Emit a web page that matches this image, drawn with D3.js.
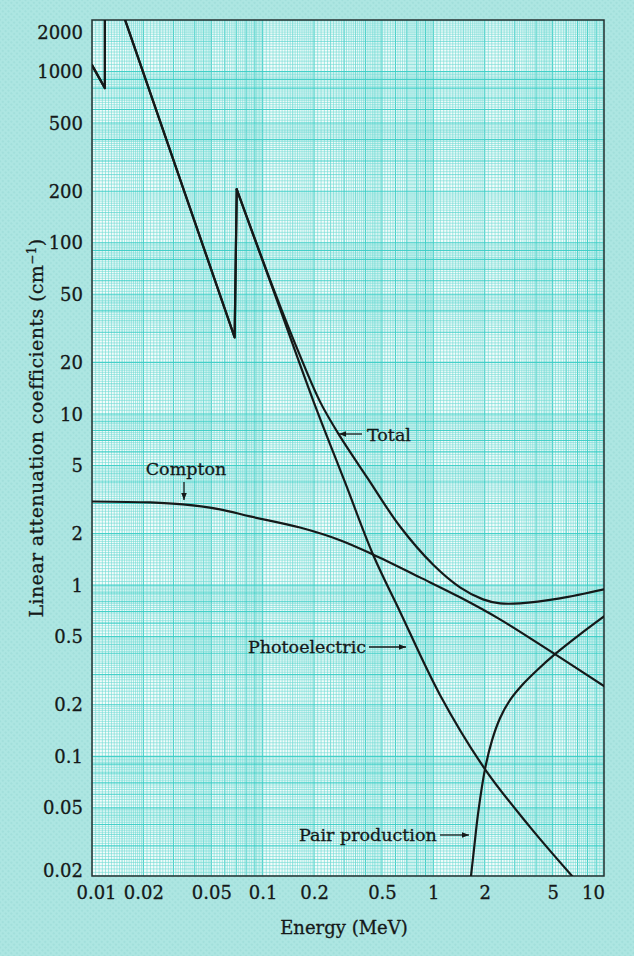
<!DOCTYPE html>
<html>
<head>
<meta charset="utf-8">
<script src="https://cdn.jsdelivr.net/npm/d3@7"></script>
<style>
  html, body { margin: 0; padding: 0; background: #ade6e2; }
  svg { display: block; }
</style>
</head>
<body>
<svg id="chart" width="634" height="956"></svg>
<script>
// ---- axis ticks ----
const energyTicks = [0.01, 0.02, 0.05, 0.1, 0.2, 0.5, 1, 2, 5, 10];
const energyTickLabels = ["0.01", "0.02", "0.05", "0.1", "0.2", "0.5", "1", "2", "5", "10"];
const muTicks = [2000, 1000, 500, 200, 100, 50, 20, 10, 5, 2, 1, 0.5, 0.2, 0.1, 0.05, 0.02];
const muTickLabels = ["2000", "1000", "500", "200", "100", "50", "20", "10", "5", "2", "1", "0.5", "0.2", "0.1", "0.05", "0.02"];

// ---- photoelectric: absorption-edge sawtooth, then smooth fall-off (MeV, cm^-1) ----
const photoEnergy = [0.01, 0.0119, 0.0119, 0.0685, 0.0705, 0.118, 0.197, 0.304, 0.443, 0.638, 1.09, 2.01, 3.69, 6.5];
const photoMu     = [1090, 800, 4400, 28, 205, 49.7, 12.1, 3.98, 1.51, 0.70, 0.23, 0.084, 0.0386, 0.02];
const photoEdgeEnd = 4;

// ---- total attenuation ----
const totalEnergy = [0.01, 0.0119, 0.0119, 0.0685, 0.0705, 0.118, 0.1655, 0.2167, 0.284, 0.409, 0.638, 0.995, 1.433, 1.954, 2.458, 3.22, 5.52, 10];
const totalMu     = [1090, 800, 4400, 28, 205, 51.1, 21.9, 11.8, 7.39, 4.26, 2.20, 1.32, 0.971, 0.826, 0.783, 0.783, 0.837, 0.945];
const totalEdgeEnd = 4;

// ---- Compton scattering ----
const comptonEnergy = [0.01, 0.0219, 0.0341, 0.0562, 0.0843, 0.1655, 0.284, 0.443, 0.835, 1.433, 2.458, 5.16, 10];
const comptonMu     = [3.08, 3.04, 2.96, 2.77, 2.52, 2.17, 1.83, 1.51, 1.11, 0.849, 0.631, 0.395, 0.257];

// ---- pair production ----
const pairEnergy = [1.662, 1.731, 1.827, 2.008, 2.207, 2.458, 2.813, 3.307, 4.05, 5.16, 7.23, 10];
const pairMu     = [0.02, 0.0287, 0.046, 0.0842, 0.124, 0.167, 0.213, 0.26, 0.318, 0.395, 0.516, 0.657];

// ---- layout ----
const W = 634, H = 956;
const plot = { left: 92, right: 604, top: 20, bottom: 876 };
const FONT = "'DejaVu Serif', serif";
const INK = "#151919";

const svg = d3.select("#chart");

const x = d3.scaleLog().domain([0.01, 10]).range([plot.left, plot.right]);
const y = d3.scaleLog().domain([0.02, 2000]).range([plot.bottom, plot.top]);

// page tint with a faint halftone screen
const defs = svg.append("defs");
const pat = defs.append("pattern")
  .attr("id", "screen").attr("width", 4).attr("height", 4)
  .attr("patternUnits", "userSpaceOnUse")
  .attr("patternTransform", "rotate(45)");
pat.append("rect").attr("width", 4).attr("height", 4).attr("fill", "#ade6e2");
pat.append("circle").attr("cx", 2).attr("cy", 2).attr("r", 1.1).attr("fill", "#a0deda");

svg.append("rect").attr("width", W).attr("height", H).attr("fill", "url(#screen)");

defs.append("clipPath").attr("id", "plotClip")
  .append("rect")
  .attr("x", plot.left).attr("y", plot.top)
  .attr("width", plot.right - plot.left).attr("height", plot.bottom - plot.top);

// graph paper
svg.append("rect")
  .attr("x", plot.left).attr("y", plot.top)
  .attr("width", plot.right - plot.left).attr("height", plot.bottom - plot.top)
  .attr("fill", "#f3fcfb");

// log-paper rulings: fine steps inside each decade, heavier at whole mantissas
function rulings(lo, hi) {
  const out = [];
  const bands = [[100, 200, 5], [200, 500, 10], [500, 1000, 20]];
  for (let k = Math.floor(Math.log10(lo)) - 1; k <= Math.ceil(Math.log10(hi)); k++) {
    const base = Math.pow(10, k) / 100;
    for (const [a, b, s] of bands) {
      for (let m = a; m < b; m += s) {
        const v = +(m * base).toPrecision(8);
        if (v >= lo * (1 - 1e-9) && v <= hi * (1 + 1e-9)) {
          out.push({ v, major: m % 100 === 0, mid: m % 50 === 0 });
        }
      }
    }
  }
  return out;
}

function ruleStyle(sel) {
  sel.attr("stroke", d => d.major ? "#3ccdc6" : d.mid ? "#52d3cc" : "#6fdad4")
     .attr("stroke-width", d => d.major ? 1.1 : d.mid ? 0.9 : 0.75)
     .attr("stroke-opacity", d => d.major ? 0.95 : 0.8);
}

const grid = svg.append("g").attr("clip-path", "url(#plotClip)");
grid.selectAll("line.v").data(rulings(0.01, 10)).join("line")
  .attr("class", "v")
  .attr("x1", d => x(d.v)).attr("x2", d => x(d.v))
  .attr("y1", plot.top).attr("y2", plot.bottom)
  .call(ruleStyle);
grid.selectAll("line.h").data(rulings(0.02, 2000)).join("line")
  .attr("class", "h")
  .attr("x1", plot.left).attr("x2", plot.right)
  .attr("y1", d => y(d.v)).attr("y2", d => y(d.v))
  .call(ruleStyle);

// frame
svg.append("rect")
  .attr("x", plot.left).attr("y", plot.top)
  .attr("width", plot.right - plot.left).attr("height", plot.bottom - plot.top)
  .attr("fill", "none").attr("stroke", "#263030").attr("stroke-width", 1.5);

// ---- curves ----
const curves = svg.append("g").attr("clip-path", "url(#plotClip)")
  .attr("fill", "none").attr("stroke", INK).attr("stroke-width", 2.2)
  .attr("stroke-linejoin", "round").attr("stroke-linecap", "round");

const pts = (E, M) => E.map((e, i) => [x(e), y(M[i])]);
const straight = d3.line();
const smooth = d3.line().curve(d3.curveCatmullRom.alpha(0.5));

function drawSeries(E, M, edgeEnd) {
  const p = pts(E, M);
  if (edgeEnd > 0) {
    curves.append("path").attr("d", straight(p.slice(0, edgeEnd + 1)));
    curves.append("path").attr("d", smooth(p.slice(edgeEnd)));
  } else {
    curves.append("path").attr("d", smooth(p));
  }
}
drawSeries(photoEnergy, photoMu, photoEdgeEnd);
drawSeries(totalEnergy, totalMu, totalEdgeEnd);
drawSeries(comptonEnergy, comptonMu, 0);
drawSeries(pairEnergy, pairMu, 0);

// ---- axes ----
const textStyle = sel => sel
  .attr("font-family", FONT).attr("fill", INK)
  .attr("stroke", INK).attr("stroke-width", 0.3);

const yAxis = svg.append("g")
  .attr("transform", `translate(${plot.left},0)`)
  .call(d3.axisLeft(y).tickValues(muTicks).tickFormat((d, i) => muTickLabels[i])
    .tickSize(0).tickPadding(9));
yAxis.select(".domain").remove();
yAxis.selectAll("text")
  .call(textStyle).attr("font-size", 18)
  .attr("dy", d => d === 2000 ? "1.02em" : d === 0.02 ? "0em" : "0.34em");

const xAxis = svg.append("g")
  .attr("transform", `translate(0,${plot.bottom})`)
  .call(d3.axisBottom(x).tickValues(energyTicks).tickFormat((d, i) => energyTickLabels[i])
    .tickSize(0).tickPadding(10));
xAxis.select(".domain").remove();
xAxis.selectAll("text")
  .call(textStyle).attr("font-size", 18)
  .attr("dx", d => d === 10 ? -11 : d === 0.01 ? 4 : 0);

// axis titles
svg.append("text")
  .attr("x", 344).attr("y", 934)
  .attr("text-anchor", "middle")
  .call(textStyle).attr("font-size", 18)
  .text("Energy (MeV)");

const yTitle = svg.append("text")
  .attr("transform", "translate(43,428) rotate(-90)")
  .attr("text-anchor", "middle")
  .attr("letter-spacing", 0.4)
  .call(textStyle).attr("font-size", 19);
yTitle.append("tspan").text("Linear attenuation coefficients (cm");
yTitle.append("tspan").attr("font-size", 12).attr("baseline-shift", "super").text("\u22121");
yTitle.append("tspan").text(")");

// ---- curve labels with pointer arrows ----
defs.append("marker")
  .attr("id", "head").attr("viewBox", "0 0 10 10")
  .attr("refX", 10).attr("refY", 5)
  .attr("markerWidth", 7).attr("markerHeight", 7)
  .attr("markerUnits", "userSpaceOnUse")
  .attr("orient", "auto")
  .append("path").attr("d", "M0,1 L10,5 L0,9 Z").attr("fill", INK);

const notes = svg.append("g").call(textStyle).attr("font-size", 17.5);
function pointer(x1, y1, x2, y2) {
  svg.append("line")
    .attr("x1", x1).attr("y1", y1).attr("x2", x2).attr("y2", y2)
    .attr("stroke", INK).attr("stroke-width", 1.3)
    .attr("marker-end", "url(#head)");
}

notes.append("text").attr("x", 367).attr("y", 441).text("Total");
pointer(362, 434, 339, 434);

notes.append("text").attr("x", 186).attr("y", 475).attr("text-anchor", "middle").text("Compton");
pointer(184, 482, 184, 500);

notes.append("text").attr("x", 248).attr("y", 653).text("Photoelectric");
pointer(369, 647, 406, 647);

notes.append("text").attr("x", 299).attr("y", 841).text("Pair production");
pointer(440, 835, 469, 835);
</script>
</body>
</html>
